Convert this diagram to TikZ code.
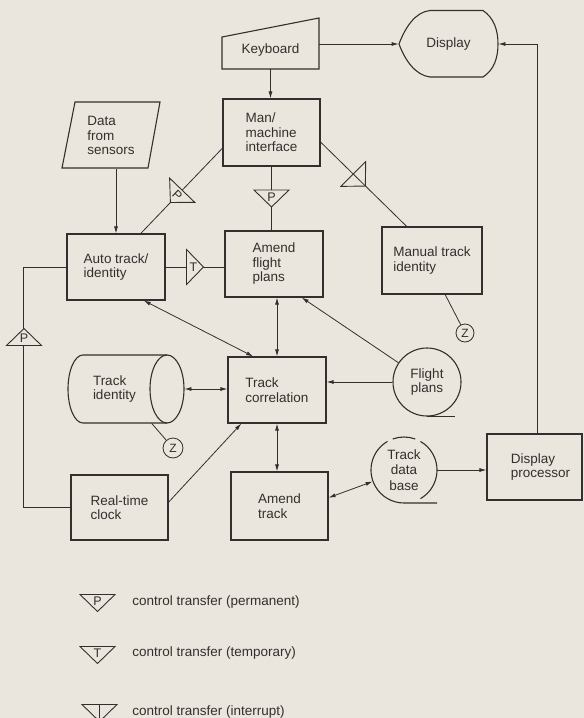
\documentclass[tikz,border=0pt]{standalone}
\usepackage{fontspec}
\setmainfont{Liberation Sans}
\usetikzlibrary{arrows.meta,calc,shapes.geometric}
\definecolor{bg}{RGB}{234,230,221}
\definecolor{ink}{RGB}{50,48,46}
\tikzset{
  ctri/.pic={
    \draw[fill=bg, line width=0.9pt, line join=miter] (-17.5,-8.5) -- (17.5,-8.5) -- (0,8.5) -- cycle;
    \node[inner sep=0pt, font=\fontsize{12.5}{12.5}\selectfont] at (0,-1.5) {#1};
  },
  itri/.pic={
    \draw[line width=0.9pt, line join=miter] (-17.5,-8.5) -- (17.5,-8.5) -- (0,8.5) -- cycle;
  },
  itrileg/.pic={
    \draw[line width=0.9pt, line join=miter] (-17.5,-8.5) -- (17.5,-8.5) -- (0,8.5) -- cycle;
    \draw[line width=0.9pt] (0,-8.5) -- (0,8.5);
  },
}
\begin{document}
\begin{tikzpicture}[x=1pt,y=-1pt, line width=0.8pt, color=ink,
  font=\fontsize{13.5}{14.5}\selectfont,
  box/.style={draw, line width=1.1pt, rectangle, inner sep=0pt, align=left},
  plain/.style={inner sep=0pt, align=left},
  arr/.style={-{Latex[length=7pt,width=4pt]}},
  darr/.style={{Latex[length=7pt,width=4pt]}-{Latex[length=7pt,width=4pt]}},
  zc/.style={draw, circle, minimum size=18pt, inner sep=0pt, font=\fontsize{12}{12}\selectfont},
  shp/.style={line width=1.1pt, line join=miter}]
\useasboundingbox (0,0) rectangle (584,718);
\fill[bg] (0,0) rectangle (584,718);

% nodes
\node[plain, minimum width=97, minimum height=38] (kb) at (270.5,50) {Keyboard};
\draw[shp] (222,69) -- (222,37) -- (319,18) -- (319,69) -- cycle;

\node[plain, minimum width=99, minimum height=67] (disp) at (448.5,44) {Display};
\draw[shp] (399,44) .. controls (405,28) and (415,12) .. (430,10.5) -- (483,10.5)
  .. controls (494,18) and (498,30) .. (498,44) .. controls (498,58) and (494,70) .. (483,77)
  -- (430,77) .. controls (415,75) and (405,60) .. (399,44) -- cycle;

\node[box, minimum width=97, minimum height=67] (mmi) at (271.5,132.5) {Man/\\machine\\interface};

\node[plain, minimum width=86, minimum height=67] (ds) at (111,135.5) {Data\\from\\sensors};
\draw[shp] (62,168) -- (75,102) -- (160,102) -- (148,168) -- cycle;

\node[box, minimum width=98, minimum height=66] (at) at (116,267) {Auto track/\\identity};
\node[box, minimum width=98, minimum height=66] (afp) at (274,264) {Amend\\flight\\plans};
\node[box, minimum width=100, minimum height=67] (mti) at (432,260.5) {Manual track\\identity};
\node[zc] (z1) at (465,333) {Z};

\node[plain, text width=66, inner xsep=25, minimum height=68] (ti) at (126,389) {Track\\identity};
\draw[shp] (167,355) -- (83,355) arc[start angle=-90, end angle=-270, x radius=15, y radius=34] -- (167,423);
\draw[shp] (167,389) ellipse[x radius=17, y radius=34];
\node[zc, minimum size=20] (z2) at (173,448) {Z};

\node[box, minimum width=98, minimum height=66] (tc) at (277,390) {Track\\correlation};

\node[draw, circle, line width=1.1pt, minimum size=68, inner sep=0pt, align=center] (fp) at (427,382) {Flight\\plans};
\draw[shp] (fp.south) -- ++(28,0);

\node[box, minimum width=97, minimum height=68] (atd) at (279.5,506) {Amend\\track};
\node[box, minimum width=97, minimum height=65] (rtc) at (119.5,507.5) {Real-time\\clock};

\node[circle, minimum size=66, inner sep=0pt, align=center, font=\fontsize{13.5}{15.5}\selectfont] (tdb) at (404,470) {Track\\data\\base};
\draw[shp] ($(tdb.center)+(-120:33)$) arc[start angle=-120, end angle=-270, radius=33] -- ++(33,0);
\draw[shp] ($(tdb.center)+(60:33)$) arc[start angle=60, end angle=-60, radius=33];
\draw[shp] ($(tdb.center)+(-70:33)$) arc[start angle=-70, end angle=-110, radius=33];

\node[box, minimum width=95, minimum height=66] (dp) at (534.5,467) {\hspace*{12pt}Display\\\hspace*{12pt}processor};

% connectors
\draw[arr] (kb.south) -- (kb.south |- mmi.north);
\draw[arr] (kb.east |- disp.west) -- (disp.west);
\draw[arr] ($(dp.north)+(2.5,0)$) |- (disp.east);
\draw[arr] (at.north |- ds.south) -- (at.north);

\draw (mmi.south) -- (mmi.south |- afp.north);
\pic at ($(mmi.south)!0.5!(mmi.south |- afp.north)$) {ctri=P};

\coordinate (d1) at ($(mmi.south west)!0.27!(mmi.north west)$);
\coordinate (d2) at ($(at.north west)!0.75!(at.north east)$);
\draw (d1) -- (d2);
\pic[rotate=-44, every node/.append style={transform shape}] at ($(d1)!0.565!(d2)$) {ctri=P};

\draw (at.east) -- (at.east -| afp.west);
\pic[rotate=90] at ($(at.east)!0.5!(at.east -| afp.west)$) {ctri=T};

\coordinate (i1) at ($(mmi.south east)!0.36!(mmi.north east)$);
\coordinate (i2) at ($(mti.north west)!0.25!(mti.north east)$);
\draw (i1) -- (i2);
\pic[rotate=45] at ($(i1)!0.45!(i2)$) {itri};

\draw (rtc.west) -- ++(-47,0) |- (at.west);
\pic[rotate=180] at (24,337) {ctri=P};

\draw ($(mti.south west)!0.63!(mti.south east)$) -- (z1);
\draw ($(ti.south west)!0.72!(ti.south east)$) -- (z2);

\draw[darr] ($(at.south west)!0.78!(at.south east)$) -- ($(tc.north west)!0.26!(tc.north east)$);
\draw[darr] (tc.north |- afp.south) -- (tc.north);
\draw[arr] (fp) -- ($(afp.south west)!0.78!(afp.south east)$);
\draw[arr] (fp.west) -- (fp.west -| tc.east);
\draw[darr] (ti.east) -- (ti.east -| tc.west);
\draw[arr] ($(rtc.south east)!0.58!(rtc.north east)$) -- ($(tc.south west)!0.14!(tc.south east)$);
\draw[darr] (tc.south) -- (tc.south |- atd.north);
\draw[darr] ($(atd.south east)!0.62!(atd.north east)$) -- (tdb);
\draw[arr] (tdb.east) -- (tdb.east -| dp.west);

% legend
\pic at (97.5,603) {ctri=P};
\node[plain, anchor=west] (l1) at (132,602) {control transfer (permanent)};
\pic at (97.5,655) {ctri=T};
\node[plain, anchor=west] (l2) at (132,653) {control transfer (temporary)};
\pic at (99.5,713) {itrileg};
\node[plain, anchor=west] (l3) at (132,712) {control transfer (interrupt)};
\end{tikzpicture}
\end{document}
